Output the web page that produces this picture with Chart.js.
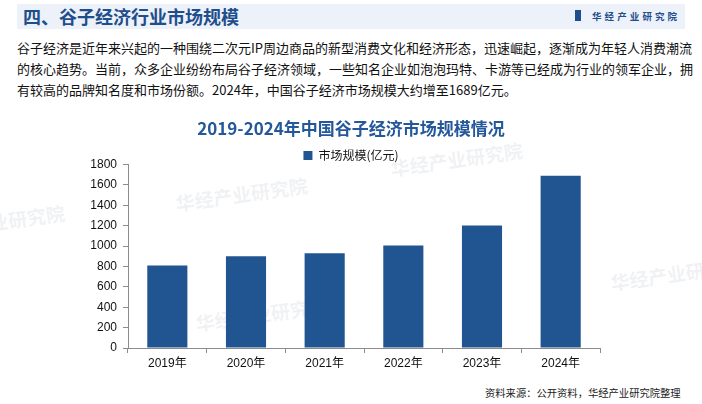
<!DOCTYPE html>
<html>
<head>
<meta charset="utf-8">
<script src="https://cdn.jsdelivr.net/npm/chart.js@4"></script>
<style>
  html, body { margin: 0; padding: 0; background: #fff; }
  body { width: 702px; height: 404px; position: relative; overflow: hidden;
         font-family: "Noto Sans CJK SC", "Liberation Sans", sans-serif; }
  .band { position: absolute; left: 17px; top: 4px; width: 668px; height: 25px; background: #edf2fa; }
  .head { position: absolute; left: 23px; top: 4px; line-height: 25px; font-size: 18px; font-weight: bold; color: #1f4e8c; }
  .brand { position: absolute; left: 575px; top: 4px; line-height: 25px; font-size: 9.5px; font-weight: bold; color: #1f4e8c; letter-spacing: 3.1px; }
  .brand i { display: inline-block; width: 6px; height: 11px; background: #1f4e8c; margin-right: 11px; vertical-align: -1px; }
  .para { position: absolute; left: 17px; top: 37px; font-size: 13px; line-height: 21px; color: #111; white-space: nowrap; }
  .src { position: absolute; left: 485px; top: 385px; font-size: 10.3px; color: #222; }
  .wm { position: absolute; font-size: 19px; font-weight: bold; color: rgba(190,195,205,0.22); transform: rotate(-8deg); white-space: nowrap; }
  canvas { position: absolute; left: 0; top: 110px; }
</style>
</head>
<body>
<div class="band"></div>
<div class="head">四、谷子经济行业市场规模</div>
<div class="brand"><i></i>华经产业研究院</div>
<div class="para">谷子经济是近年来兴起的一种围绕二次元IP周边商品的新型消费文化和经济形态，迅速崛起，逐渐成为年轻人消费潮流<br>的核心趋势。当前，众多企业纷纷布局谷子经济领域，一些知名企业如泡泡玛特、卡游等已经成为行业的领军企业，拥<br>有较高的品牌知名度和市场份额。2024年，中国谷子经济市场规模大约增至1689亿元。</div>

<div class="wm" style="left:175px; top:180px;">华经产业研究院</div>
<div class="wm" style="left:390px; top:145px;">华经产业研究院</div>
<div class="wm" style="left:195px; top:300px;">华经产业研究院</div>
<div class="wm" style="left:610px; top:262px;">华经产业研</div>
<div class="wm" style="left:-30px; top:205px;">产业研究院</div>

<canvas id="myChart" width="702" height="268" style="width:702px;height:268px;"></canvas>
<div class="src">资料来源：公开资料，华经产业研究院整理</div>

<script>
// data
const years = ['2019年', '2020年', '2021年', '2022年', '2023年', '2024年'];
const marketSize = [810, 900, 930, 1005, 1200, 1689];
const seriesName = '市场规模(亿元)';
const chartTitle = '2019-2024年中国谷子经济市场规模情况';

const axisGrey = '#8c8c8c';

const data = {
    labels: years,
    datasets: [{
        label: seriesName,
        data: marketSize,
        backgroundColor: '#215592',
        borderWidth: 0,
        barPercentage: 0.51,
        categoryPercentage: 1
    }]
};

// squeeze the legend so the plot sits right under it
const legendFit = {
    id: 'legendFit',
    afterInit(chart) {
        const legend = chart.legend;
        const origFit = legend.fit;
        legend.fit = function () {
            origFit.call(this);
            this.height = 15;
        };
    }
};

const config = {
    type: 'bar',
    data: data,
    options: {
        responsive: false,
        animation: false,
        devicePixelRatio: 1,
        layout: { padding: 0 },
        plugins: {
            title: {
                display: true,
                text: chartTitle,
                color: '#24589a',
                font: { family: '"Noto Sans CJK SC", sans-serif', size: 17, weight: 'bold' },
                padding: { top: 8, bottom: 11 }
            },
            legend: {
                position: 'top',
                labels: {
                    boxWidth: 9,
                    boxHeight: 9,
                    padding: 0,
                    color: '#111',
                    font: { family: '"Noto Sans CJK SC", sans-serif', size: 12 }
                }
            },
            tooltip: { enabled: false }
        },
        scales: {
            x: {
                grid: { drawOnChartArea: false, drawTicks: true, tickLength: 5, color: axisGrey },
                border: { color: axisGrey },
                ticks: { color: '#111', padding: 3, font: { family: '"Liberation Sans", "Noto Sans CJK SC", sans-serif', size: 12 } },
                afterFit(scale) { scale.height = 30; }
            },
            y: {
                min: 0,
                max: 1800,
                grid: { drawOnChartArea: false, drawTicks: true, tickLength: 5, color: axisGrey },
                border: { color: axisGrey },
                ticks: {
                    stepSize: 200,
                    color: '#111',
                    padding: 6,
                    font: { family: '"Liberation Sans", sans-serif', size: 12 },
                    callback: (v) => String(v)
                },
                afterFit(scale) { scale.width = 128; }
            },
            yRight: {
                type: 'linear',
                position: 'right',
                grid: { display: false },
                border: { display: false },
                ticks: { display: false },
                afterFit(scale) { scale.width = 102; }
            }
        }
    },
    plugins: [legendFit]
};

const myChart = new Chart(document.getElementById('myChart'), config);
</script>
</body>
</html>
